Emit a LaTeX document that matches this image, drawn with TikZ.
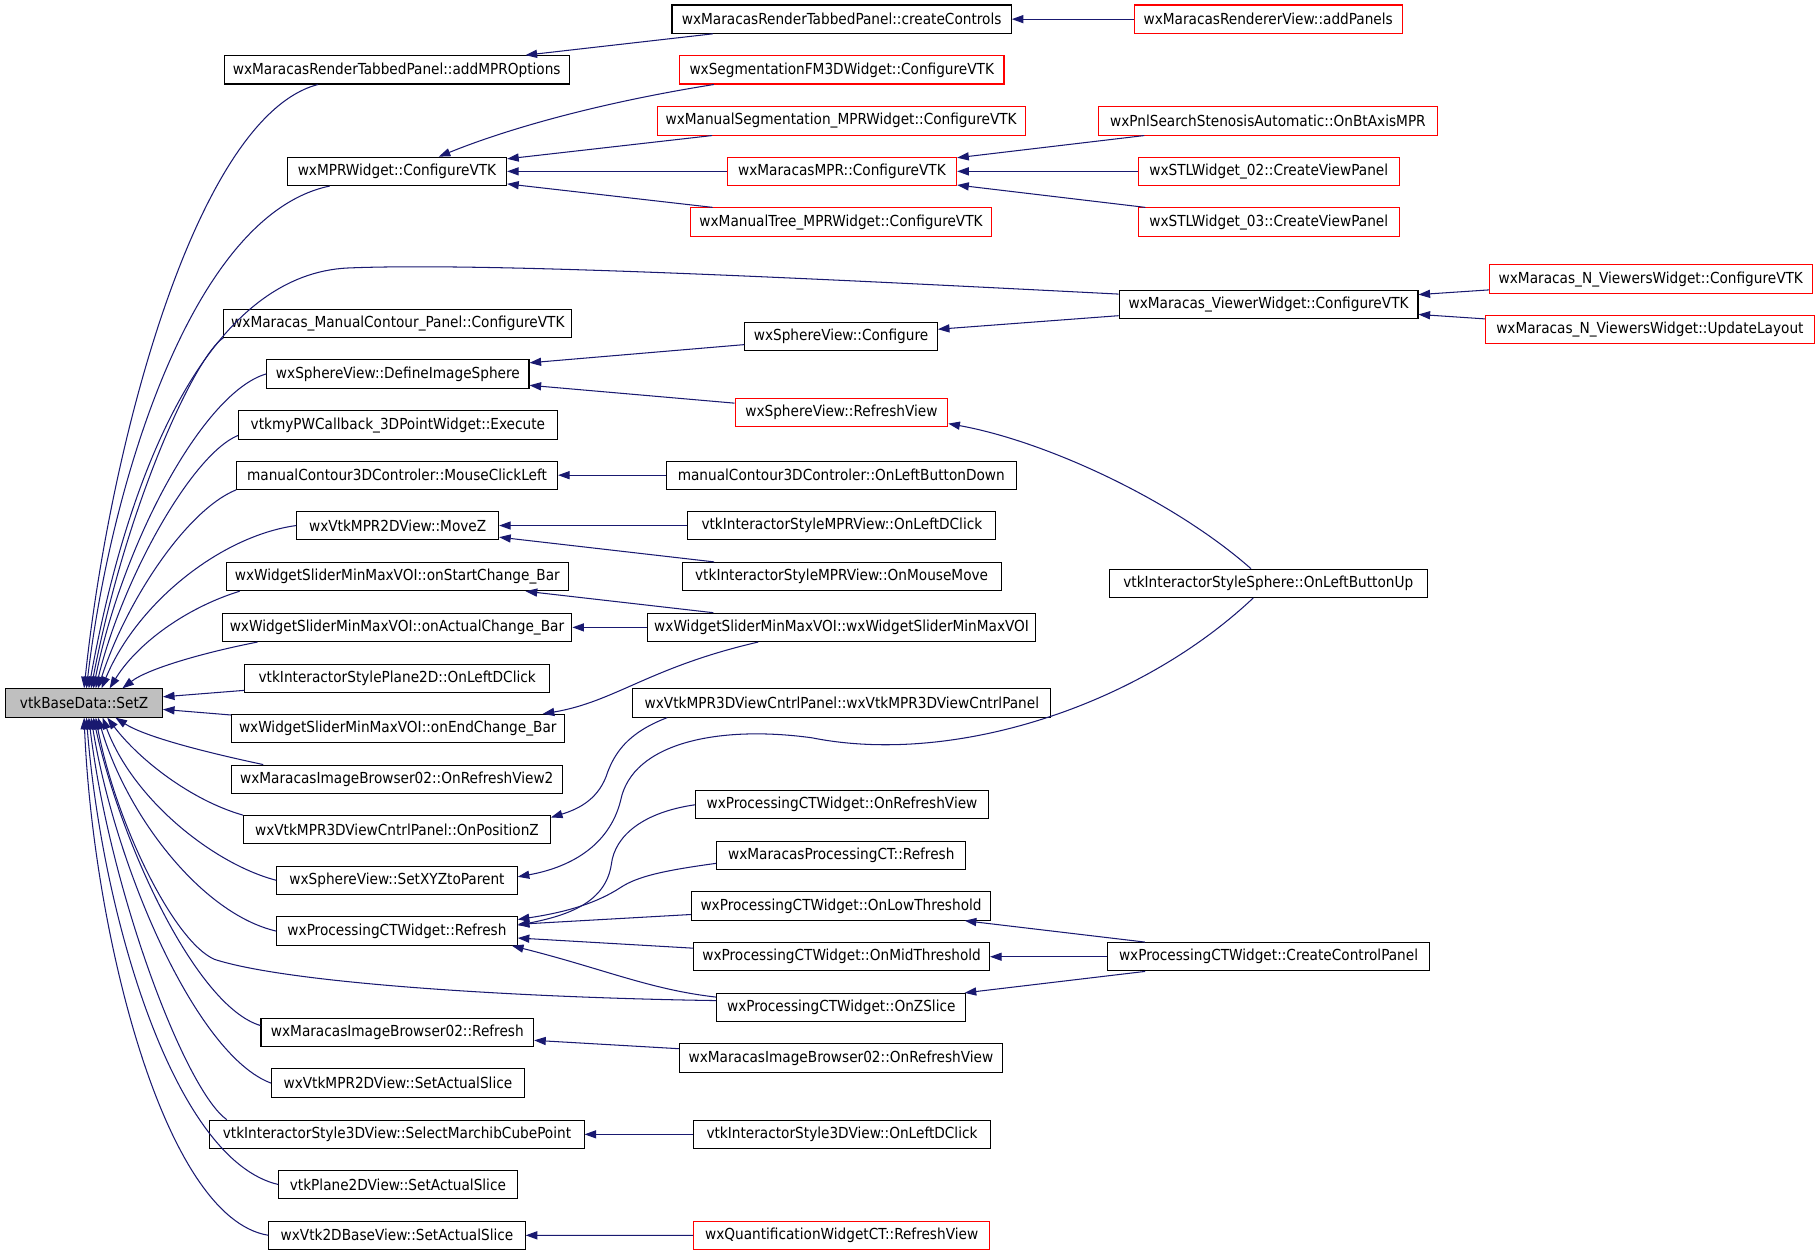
\documentclass[tikz,border=0pt]{standalone}
\usepackage{fontspec}
\setmainfont{DejaVu Sans Condensed}
\usetikzlibrary{arrows.meta}
\definecolor{edgeblue}{HTML}{191970}
\definecolor{rootgray}{HTML}{BFBFBF}

\begin{document}
\begin{tikzpicture}[x=1pt,y=-1pt,
  fnbox/.style={draw=black,line width=0.9pt,fill=white,minimum height=24.4pt,
    inner sep=0pt,font=\fontsize{13.1}{15}\selectfont},
  fnred/.style={fnbox,draw=red},
  callarrow/.style={edgeblue,line width=0.9pt,-{Triangle[length=10pt,width=7pt]}}]

  \useasboundingbox (0,0) rectangle (1568,1080);

  % root
  \node[fnbox,fill=rootgray,minimum width=135pt] (setz) at (72.5,606) {vtkBaseData::SetZ};

  % direct callers
  \node[fnbox,minimum width=297pt]   (addmpr)       at (342,60.2)    {wxMaracasRenderTabbedPanel::addMPROptions};
  \node[fnbox,minimum width=189pt]   (mprw)         at (342.2,147.7) {wxMPRWidget::ConfigureVTK};
  \node[fnbox,minimum width=300pt]   (mcpanel)      at (343,278.6)   {wxMaracas\_ManualContour\_Panel::ConfigureVTK};
  \node[fnbox,minimum width=226pt]   (defsphere)    at (343,322.3)   {wxSphereView::DefineImageSphere};
  \node[fnbox,minimum width=275pt]   (pwexec)       at (343,366.4)   {vtkmyPWCallback\_3DPointWidget::Execute};
  \node[fnbox,minimum width=276.6pt] (mclick)       at (342.3,409.6) {manualContour3DControler::MouseClickLeft};
  \node[fnbox,minimum width=174pt]   (movez)        at (342.8,453)   {wxVtkMPR2DView::MoveZ};
  \node[fnbox,minimum width=295pt]   (startbar)     at (342.5,497)   {wxWidgetSliderMinMaxVOI::onStartChange\_Bar};
  \node[fnbox,minimum width=301.5pt] (actualbar)    at (342.2,540.8) {wxWidgetSliderMinMaxVOI::onActualChange\_Bar};
  \node[fnbox,minimum width=262.8pt] (plane2d)      at (342.4,584.7) {vtkInteractorStylePlane2D::OnLeftDClick};
  \node[fnbox,minimum width=287pt]   (endbar)       at (342.9,628)   {wxWidgetSliderMinMaxVOI::onEndChange\_Bar};
  \node[fnbox,minimum width=285.3pt] (refview2)     at (342,671.7)   {wxMaracasImageBrowser02::OnRefreshView2};
  \node[fnbox,minimum width=264.5pt] (poszp)        at (342.2,715.3) {wxVtkMPR3DViewCntrlPanel::OnPositionZ};
  \node[fnbox,minimum width=207.3pt] (setxyz)       at (342.2,758.8) {wxSphereView::SetXYZtoParent};
  \node[fnbox,minimum width=207.3pt] (ctrefresh)    at (342.2,802.6) {wxProcessingCTWidget::Refresh};
  \node[fnbox,minimum width=235pt]   (ibrefresh)    at (342.5,890)   {wxMaracasImageBrowser02::Refresh};
  \node[fnbox,minimum width=218pt]   (mprslice)     at (343,933.6)   {wxVtkMPR2DView::SetActualSlice};
  \node[fnbox,minimum width=322.5pt] (marchib)      at (342.2,977.8) {vtkInteractorStyle3DView::SelectMarchibCubePoint};
  \node[fnbox,minimum width=205.6pt] (planeslice)   at (343,1021)    {vtkPlane2DView::SetActualSlice};
  \node[fnbox,minimum width=221pt]   (baseslice)    at (342.2,1064.8){wxVtk2DBaseView::SetActualSlice};

  % second level
  \node[fnbox,minimum width=292.5pt] (createctl)    at (725.5,16.5)  {wxMaracasRenderTabbedPanel::createControls};
  \node[fnred,minimum width=279.7pt] (segfm)        at (725.6,60.2)  {wxSegmentationFM3DWidget::ConfigureVTK};
  \node[fnred,minimum width=317pt]   (manseg)       at (725.1,104.2) {wxManualSegmentation\_MPRWidget::ConfigureVTK};
  \node[fnred,minimum width=197.7pt] (marmpr)       at (725.8,147.7) {wxMaracasMPR::ConfigureVTK};
  \node[fnred,minimum width=260pt]   (mantree)      at (725,191.4)   {wxManualTree\_MPRWidget::ConfigureVTK};
  \node[fnbox,minimum width=166pt]   (sphconf)      at (725,290)     {wxSphereView::Configure};
  \node[fnred,minimum width=183.4pt] (sphrefresh)   at (725.3,355.5) {wxSphereView::RefreshView};
  \node[fnbox,minimum width=301.5pt] (leftdown)     at (725.2,409.6) {manualContour3DControler::OnLeftButtonDown};
  \node[fnbox,minimum width=265.4pt] (mprdclick)    at (725.7,453)   {vtkInteractorStyleMPRView::OnLeftDClick};
  \node[fnbox,minimum width=275pt]   (mprmove)      at (725.5,497)   {vtkInteractorStyleMPRView::OnMouseMove};
  \node[fnbox,minimum width=335pt]   (slider)       at (725.5,540.8) {wxWidgetSliderMinMaxVOI::wxWidgetSliderMinMaxVOI};
  \node[fnbox,minimum width=360.4pt] (cntrlpanel)   at (725.7,606)   {wxVtkMPR3DViewCntrlPanel::wxVtkMPR3DViewCntrlPanel};
  \node[fnbox,minimum width=252.3pt] (ctrefview)    at (725.8,693.7) {wxProcessingCTWidget::OnRefreshView};
  \node[fnbox,minimum width=214.8pt] (mpctrefresh)  at (725.2,737.2) {wxMaracasProcessingCT::Refresh};
  \node[fnbox,minimum width=258pt]   (lowthr)       at (725,781)     {wxProcessingCTWidget::OnLowThreshold};
  \node[fnbox,minimum width=255pt]   (midthr)       at (725.5,824.7) {wxProcessingCTWidget::OnMidThreshold};
  \node[fnbox,minimum width=214.8pt] (zslice)       at (725.2,868.5) {wxProcessingCTWidget::OnZSlice};
  \node[fnbox,minimum width=278.2pt] (ibrefview)    at (724.9,912)   {wxMaracasImageBrowser02::OnRefreshView};
  \node[fnbox,minimum width=256.4pt] (dclick3d)     at (725.8,977.8) {vtkInteractorStyle3DView::OnLeftDClick};
  \node[fnred,minimum width=255pt]   (quantrv)      at (725.5,1065)  {wxQuantificationWidgetCT::RefreshView};

  % third level
  \node[fnred,minimum width=231pt]   (addpanels)    at (1093.2,16.5)  {wxMaracasRendererView::addPanels};
  \node[fnred,minimum width=292.6pt] (pnlsearch)    at (1093,104.2)   {wxPnlSearchStenosisAutomatic::OnBtAxisMPR};
  \node[fnred,minimum width=225.3pt] (stltwo)       at (1093.7,147.7) {wxSTLWidget\_02::CreateViewPanel};
  \node[fnred,minimum width=225.3pt] (stlthree)     at (1093.7,191.4) {wxSTLWidget\_03::CreateViewPanel};
  \node[fnbox,minimum width=257.6pt] (viewerw)      at (1093.5,262.5) {wxMaracas\_ViewerWidget::ConfigureVTK};
  \node[fnbox,minimum width=274.5pt] (sphup)        at (1093.3,502.8) {vtkInteractorStyleSphere::OnLeftButtonUp};
  \node[fnbox,minimum width=278pt]   (createcp)     at (1093.5,824.7) {wxProcessingCTWidget::CreateControlPanel};

  % fourth level
  \node[fnred,minimum width=278pt]   (nvconf)       at (1423,240.6)   {wxMaracas\_N\_ViewersWidget::ConfigureVTK};
  \node[fnred,minimum width=283pt]   (nvlayout)     at (1422.2,284.3) {wxMaracas\_N\_ViewersWidget::UpdateLayout};

  % straight calls
  \draw[callarrow] (addpanels) -- (createctl);
  \draw[callarrow] (createctl) -- (addmpr);
  \draw[callarrow] (manseg) -- (mprw);
  \draw[callarrow] (marmpr) -- (mprw);
  \draw[callarrow] (mantree) -- (mprw);
  \draw[callarrow] (pnlsearch) -- (marmpr);
  \draw[callarrow] (stltwo) -- (marmpr);
  \draw[callarrow] (stlthree) -- (marmpr);
  \draw[callarrow] (nvconf) -- (viewerw);
  \draw[callarrow] (nvlayout) -- (viewerw);
  \draw[callarrow] (viewerw) -- (sphconf);
  \draw[callarrow] (sphconf) -- (defsphere);
  \draw[callarrow] (sphrefresh) -- (defsphere);
  \draw[callarrow] (leftdown) -- (mclick);
  \draw[callarrow] (mprdclick) -- (movez);
  \draw[callarrow] (mprmove) -- (movez);
  \draw[callarrow] (slider) -- (startbar);
  \draw[callarrow] (slider) -- (actualbar);
  \draw[callarrow] (plane2d) -- (setz);
  \draw[callarrow] (endbar) -- (setz);
  \draw[callarrow] (lowthr) -- (ctrefresh);
  \draw[callarrow] (midthr) -- (ctrefresh);
  \draw[callarrow] (createcp) -- (lowthr);
  \draw[callarrow] (createcp) -- (midthr);
  \draw[callarrow] (createcp) -- (zslice);
  \draw[callarrow] (ibrefview) -- (ibrefresh);
  \draw[callarrow] (dclick3d) -- (marchib);
  \draw[callarrow] (quantrv) -- (baseslice);

  % curved calls, right part
  \draw[callarrow] ([xshift=30pt]segfm.south west) .. controls (520,88) and (440,110) .. ([xshift=36pt]mprw.north);
  \draw[callarrow] ([xshift=96pt]slider.south west) .. controls (560,575) and (530,605) .. ([xshift=-19pt]endbar.north east);
  \draw[callarrow] ([xshift=30pt]cntrlpanel.south west) .. controls (540,632) and (530,650) .. (524,665)
    .. controls (517,688) and (500,697) .. ([yshift=-2pt]poszp.north east);
  \draw[callarrow] ([xshift=-15pt]sphup.north) .. controls (1010,430) and (900,380) .. ([yshift=3pt]sphrefresh.south east);
  \draw[callarrow] ([xshift=-13pt]sphup.south) .. controls (980,610) and (820,660) .. (700,636)
    .. controls (620,625) and (545,640) .. (535,690) .. controls (525,730) and (490,748) .. ([yshift=3pt]setxyz.east);
  \draw[callarrow] (ctrefview.west) .. controls (555,700) and (530,720) .. (527,745)
    .. controls (522,778) and (490,789) .. ([yshift=5pt]ctrefresh.east);
  \draw[callarrow] ([yshift=-7pt]mpctrefresh.west) .. controls (575,750) and (550,755) .. (535,765)
    .. controls (515,778) and (490,786) .. ([yshift=10pt]ctrefresh.east);
  \draw[callarrow] ([yshift=9pt]zslice.west) .. controls (560,853) and (520,835) .. ([xshift=-5pt]ctrefresh.south east);

  % calls into SetZ from above
  \draw[callarrow] ([xshift=81pt]addmpr.south west) .. controls (170,100) and (95,380) .. (setz.north);
  \draw[callarrow] ([xshift=37pt]mprw.south west) .. controls (165,185) and (95,420) .. ([xshift=2pt]setz.north);
  \draw[callarrow] ([yshift=9pt]viewerw.west) .. controls (700,240) and (420,226) .. (300,231)
    .. controls (190,236) and (115,380) .. ([xshift=4pt]setz.north);
  \draw[callarrow] (mcpanel.south west) .. controls (170,305) and (110,430) .. ([xshift=6pt]setz.north);
  \draw[callarrow] (defsphere.west) .. controls (175,338) and (105,470) .. ([xshift=8pt]setz.north);
  \draw[callarrow] ([yshift=-9pt]pwexec.west) .. controls (165,392) and (105,500) .. ([xshift=10pt]setz.north);
  \draw[callarrow] (mclick.south west) .. controls (160,440) and (108,520) .. ([xshift=12pt]setz.north);
  \draw[callarrow] (movez.west) .. controls (190,462) and (118,520) .. ([xshift=15pt]setz.north);
  \draw[callarrow] ([xshift=12pt]startbar.south west) .. controls (160,524) and (118,555) .. ([xshift=22pt]setz.north);
  \draw[callarrow] ([xshift=31pt]actualbar.south west) .. controls (178,562) and (128,576) .. ([xshift=33pt]setz.north);

  % calls into SetZ from below
  \draw[callarrow] ([xshift=28pt]refview2.north west) .. controls (175,648) and (125,635) .. ([xshift=27pt]setz.south);
  \draw[callarrow] (poszp.north west) .. controls (165,690) and (120,655) .. ([xshift=20pt]setz.south);
  \draw[callarrow] (setxyz.west) .. controls (185,745) and (115,690) .. ([xshift=16pt]setz.south);
  \draw[callarrow] (ctrefresh.west) .. controls (175,788) and (110,705) .. ([xshift=12pt]setz.south);
  \draw[callarrow] ([yshift=6pt]zslice.west) .. controls (450,860) and (250,848) .. (185,827)
    .. controls (150,812) and (100,710) .. ([xshift=10pt]setz.south);
  \draw[callarrow] ([yshift=6pt]ibrefresh.west) .. controls (170,868) and (105,730) .. ([xshift=8pt]setz.south);
  \draw[callarrow] (mprslice.west) .. controls (170,910) and (100,750) .. ([xshift=6pt]setz.south);
  \draw[callarrow] ([xshift=15pt]marchib.north west) .. controls (160,940) and (95,770) .. ([xshift=4pt]setz.south);
  \draw[callarrow] (planeslice.west) .. controls (150,1000) and (88,790) .. ([xshift=2pt]setz.south);
  \draw[callarrow] (baseslice.west) .. controls (140,1050) and (80,800) .. (setz.south);

\end{tikzpicture}
\end{document}
